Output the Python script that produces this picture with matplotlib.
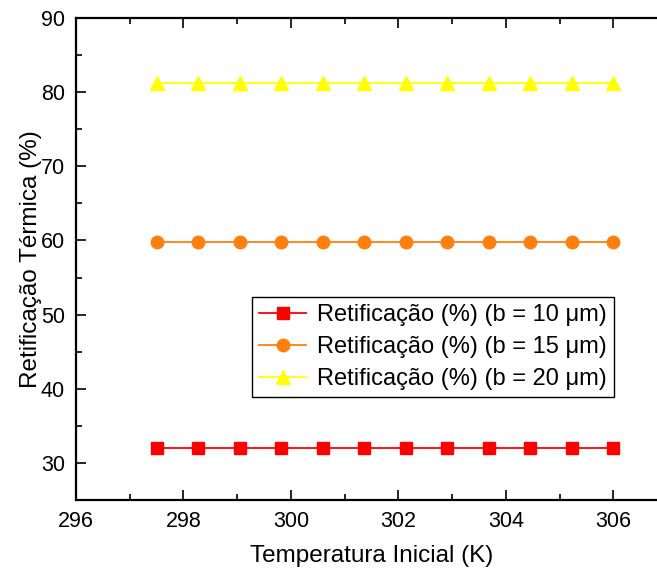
import matplotlib
matplotlib.use("Agg")
import matplotlib.pyplot as plt
from matplotlib.ticker import MultipleLocator

plt.rcParams['font.family'] = ['Liberation Sans', 'DejaVu Sans']

temps = [297.50, 298.27, 299.05, 299.82, 300.59, 301.36, 302.14, 302.91, 303.68, 304.45, 305.23, 306.00]
ret_b10 = [32.0] * 12
ret_b15 = [59.8] * 12
ret_b20 = [81.2] * 12
labels = ["Retificação (%) (b = 10 μm)", "Retificação (%) (b = 15 μm)", "Retificação (%) (b = 20 μm)"]

W, H = 657, 569
fig = plt.figure(figsize=(W / 100, H / 100), dpi=100)
x0, y0, x1, y1 = 76, 18, 667, 500
ax = fig.add_axes([x0 / W, 1 - y1 / H, (x1 - x0) / W, (y1 - y0) / H])

ax.plot(temps, ret_b10, color='#ff0000', marker='s', markersize=9, lw=1.3, label=labels[0])
ax.plot(temps, ret_b15, color='#ff7f0e', marker='o', markersize=9, lw=1.3, label=labels[1],
        markerfacecolor='#ff7f0e', markeredgecolor='#ff7f0e')
ax.plot(temps, ret_b20, color='#ffff00', marker='^', markersize=10, lw=1.3, label=labels[2])

ax.set_xlim(296, 307)
ax.set_ylim(25, 90)
ax.xaxis.set_major_locator(MultipleLocator(2))
ax.xaxis.set_minor_locator(MultipleLocator(1))
ax.yaxis.set_major_locator(MultipleLocator(10))
ax.yaxis.set_minor_locator(MultipleLocator(5))
ax.tick_params(which='both', direction='in', top=True, right=False, width=1.2, labelsize=15.5, pad=8)
ax.tick_params(which='major', length=7)
ax.tick_params(which='minor', length=4)
for s in ['left', 'bottom', 'top']:
    ax.spines[s].set_linewidth(1.6)
ax.spines['right'].set_visible(False)

ax.set_xlabel("Temperatura Inicial (K)", fontsize=17.5, labelpad=9)
ax.set_ylabel("Retificação Térmica (%)", fontsize=17.5, labelpad=-1)

leg = ax.legend(loc='upper left', bbox_to_anchor=(252 / W, 1 - 297 / H), bbox_transform=fig.transFigure,
                fontsize=17, frameon=True, fancybox=False, edgecolor='black', framealpha=1,
                handlelength=2.0, borderpad=0.3, labelspacing=0.42, handletextpad=0.45, borderaxespad=0)
leg.get_frame().set_linewidth(1.0)

fig.savefig("out.png", dpi=100)
